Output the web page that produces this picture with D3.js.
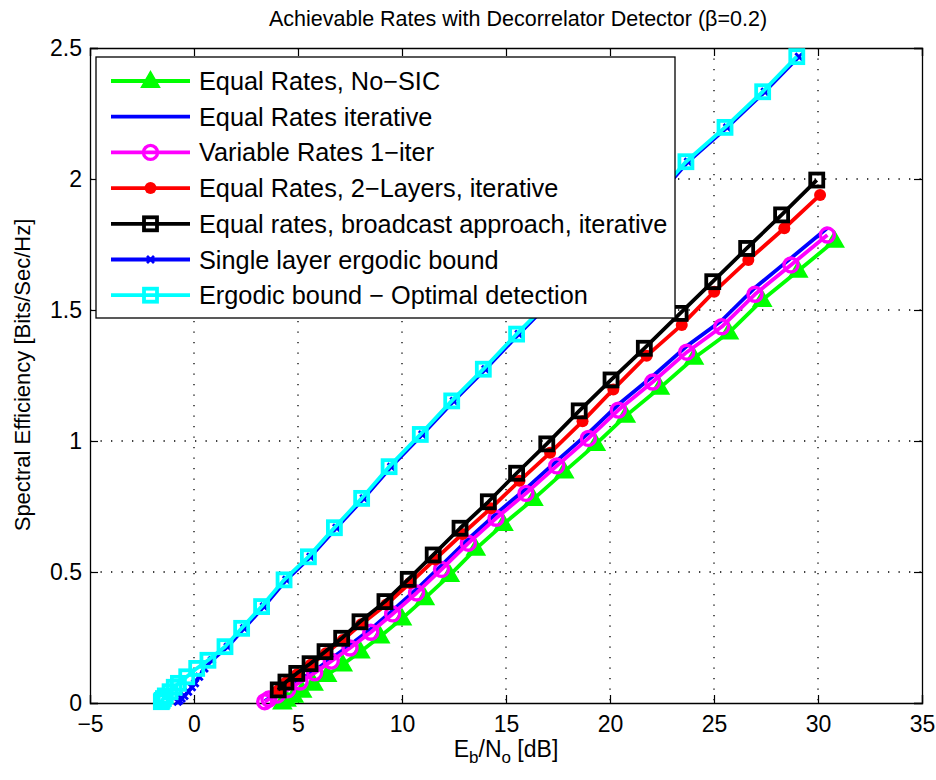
<!DOCTYPE html>
<html><head><meta charset="utf-8">
<script src="https://cdn.jsdelivr.net/npm/d3@7"></script>
<style>
body{margin:0;background:#fff;}
text{font-family:"Liberation Sans",Arial,Helvetica,sans-serif;}
</style></head>
<body><svg id="c" width="936" height="780"></svg>
<script>
// ---- data ----
const xTicks = [-5,0,5,10,15,20,25,30,35];
const yTicks = [0,0.5,1,1.5,2,2.5];

const cyanE = [-1.57,-1.53,-1.47,-1.38,-1.15,-0.95,-0.75,-0.35,0.13,0.67,1.49,2.29,3.25,4.33,5.5,6.75,8.06,9.38,10.88,12.39,13.91,15.51,17.16,18.85,20.53,22.16,23.65,25.53,27.34,28.98];
const cyanC = [0.005,0.01,0.017,0.027,0.043,0.06,0.075,0.1,0.132,0.163,0.215,0.285,0.368,0.47,0.558,0.669,0.781,0.902,1.025,1.153,1.274,1.408,1.54,1.67,1.80,1.93,2.066,2.197,2.333,2.467];

const singleE = [-0.78,-0.7,-0.6,-0.46,-0.28,-0.1,0.05,0.25,0.5,0.86,1.62,2.41,3.36,4.44,5.6,6.85,8.16,9.48,10.98,12.49,14.01,15.61,17.26,18.95,20.63,22.26,23.75,25.63,27.44,29.08];
const singleC = [0.005,0.01,0.017,0.027,0.043,0.06,0.075,0.1,0.132,0.163,0.215,0.285,0.368,0.47,0.558,0.669,0.781,0.902,1.025,1.153,1.274,1.408,1.54,1.67,1.80,1.93,2.066,2.197,2.333,2.467];

const blackE = [4.05,4.42,4.94,5.58,6.30,7.10,7.98,9.18,10.30,11.50,12.79,14.15,15.51,16.96,18.52,20.05,21.65,23.37,24.94,26.57,28.25,29.94];
const blackC = [0.050,0.080,0.113,0.150,0.196,0.247,0.310,0.387,0.472,0.565,0.667,0.768,0.877,0.989,1.115,1.233,1.354,1.487,1.608,1.735,1.863,1.996];

const redE = [4.05,4.43,4.96,5.61,6.34,7.15,8.04,9.25,10.38,11.59,12.9,14.27,15.65,17.12,18.68,20.16,21.76,23.45,25.01,26.65,28.38,30.1];
const redC = [0.049,0.078,0.110,0.146,0.190,0.240,0.301,0.376,0.458,0.548,0.645,0.743,0.848,0.955,1.075,1.197,1.325,1.443,1.570,1.691,1.812,1.939];

const magE = [3.4,3.6,4.0,4.5,5.1,5.8,6.6,7.5,8.5,9.55,10.7,11.9,13.19,14.52,15.96,17.44,18.96,20.4,22.05,23.69,25.37,26.97,28.70,30.45];
const magC = [0.005,0.015,0.03,0.05,0.08,0.115,0.16,0.21,0.27,0.34,0.42,0.51,0.610,0.705,0.80,0.905,1.010,1.118,1.225,1.339,1.436,1.560,1.672,1.786];

const eqItE = [3.4,3.6,4.0,4.5,5.1,5.8,6.6,7.5,8.5,9.55,10.7,11.9,13.19,14.52,15.96,17.44,18.96,20.4,22.05,23.69,25.37,26.97,28.70,30.45];
const eqItC = [0.007,0.018,0.035,0.057,0.088,0.124,0.17,0.221,0.282,0.353,0.434,0.525,0.626,0.722,0.818,0.924,1.03,1.139,1.247,1.362,1.46,1.585,1.698,1.813];

const greenE = [4.25,4.45,4.8,5.2,5.75,6.4,7.15,8.0,8.95,10.0,11.1,12.3,13.55,14.88,16.32,17.8,19.32,20.76,22.4,24.04,25.72,27.32,29.05,30.8];
const greenC = [0.002,0.012,0.027,0.046,0.073,0.107,0.147,0.196,0.254,0.322,0.4,0.488,0.588,0.683,0.778,0.883,0.988,1.096,1.203,1.317,1.414,1.538,1.65,1.764];

const legendLabels = ["Equal Rates, No\u2212SIC","Equal Rates iterative","Variable Rates 1\u2212iter","Equal Rates, 2\u2212Layers, iterative","Equal rates, broadcast approach, iterative","Single layer ergodic bound","Ergodic bound \u2212 Optimal detection"];

// ---- chart ----
const svg = d3.select("#c");
const L=90,R=922,T=48,B=703;
const x = d3.scaleLinear().domain([-5,35]).range([L,R]);
const y = d3.scaleLinear().domain([0,2.5]).range([B,T]);

svg.append("rect").attr("x",0).attr("y",0).attr("width",936).attr("height",780).attr("fill","#fff");

// grid
const g = svg.append("g");
xTicks.slice(1,-1).forEach(t=>g.append("line").attr("x1",x(t)).attr("x2",x(t)).attr("y1",T).attr("y2",B)
  .attr("stroke","#000").attr("stroke-width",1.3).attr("stroke-dasharray","1.3,9.2"));
yTicks.slice(1,-1).forEach(t=>g.append("line").attr("y1",y(t)).attr("y2",y(t)).attr("x1",L).attr("x2",R)
  .attr("stroke","#000").attr("stroke-width",1.3).attr("stroke-dasharray","1.3,9.2"));

// axes
const fmt = d=> (d<0? "\u2212"+Math.abs(d) : String(d));
const xAx = svg.append("g").attr("transform",`translate(0,${B})`).call(d3.axisBottom(x).tickValues(xTicks).tickSize(-8).tickPadding(13).tickFormat(fmt));
const xAxT = svg.append("g").attr("transform",`translate(0,${T})`).call(d3.axisTop(x).tickValues(xTicks).tickSize(-8).tickFormat(""));
const yAx = svg.append("g").attr("transform",`translate(${L},0)`).call(d3.axisLeft(y).tickValues(yTicks).tickSize(-8).tickPadding(8).tickFormat(d=>String(d)));
const yAxR = svg.append("g").attr("transform",`translate(${R},0)`).call(d3.axisRight(y).tickValues(yTicks).tickSize(-8).tickFormat(""));
[xAx,xAxT,yAx,yAxR].forEach(a=>{a.select(".domain").attr("stroke","#000").attr("stroke-width",1.3);
  a.selectAll(".tick line").attr("stroke","#000").attr("stroke-width",1.2);
  a.selectAll("text").attr("font-size",23).attr("fill","#000").attr("font-family","Liberation Sans, Arial, sans-serif");});

// series
const lineGen = d3.line().x(d=>x(d[0])).y(d=>y(d[1]));
const zip=(a,b)=>a.map((v,i)=>[v,b[i]]);
const series = [
  {E:greenE,C:greenC,color:"#00ff00",marker:"tri"},
  {E:eqItE,C:eqItC,color:"#0000ff",marker:"none"},
  {E:magE,C:magC,color:"#ff00ff",marker:"circle"},
  {E:redE,C:redC,color:"#ff0000",marker:"dot"},
  {E:blackE,C:blackC,color:"#000000",marker:"square"},
  {E:singleE,C:singleC,color:"#0000ff",marker:"x"},
  {E:cyanE,C:cyanC,color:"#00ffff",marker:"square"}
];
const plot = svg.append("g");
function drawMarker(sel,type,color,cx,cy){
  if(type==="tri"){
    const s=9.5;
    sel.append("path").attr("d",`M${cx},${cy-s}L${cx+s*0.95},${cy+s*0.65}L${cx-s*0.95},${cy+s*0.65}Z`)
      .attr("fill",color).attr("stroke",color).attr("stroke-width",1.5);
  } else if(type==="circle"){
    sel.append("circle").attr("cx",cx).attr("cy",cy).attr("r",7).attr("fill","none").attr("stroke",color).attr("stroke-width",3.4);
  } else if(type==="dot"){
    sel.append("circle").attr("cx",cx).attr("cy",cy).attr("r",6).attr("fill",color);
  } else if(type==="square"){
    sel.append("rect").attr("x",cx-6.5).attr("y",cy-6.5).attr("width",13).attr("height",13).attr("fill","none").attr("stroke",color).attr("stroke-width",3.8);
  } else if(type==="x"){
    const s=3.5;
    sel.append("path").attr("d",`M${cx-s},${cy-s}L${cx+s},${cy+s}M${cx-s},${cy+s}L${cx+s},${cy-s}`).attr("stroke",color).attr("stroke-width",2.8);
  }
}
series.forEach(s=>{
  const pts = zip(s.E,s.C);
  plot.append("path").datum(pts).attr("d",lineGen).attr("fill","none").attr("stroke",s.color).attr("stroke-width",3.8).attr("stroke-linejoin","round");
  if(s.marker!=="none"){
    const mg = plot.append("g");
    pts.forEach(p=>drawMarker(mg,s.marker,s.color,x(p[0]),y(p[1])));
  }
});

// legend
const lg = svg.append("g");
const lx=96, ly=57, lw=579, lh=261;
lg.append("rect").attr("x",lx).attr("y",ly).attr("width",lw).attr("height",lh).attr("fill","#fff").attr("stroke","#000").attr("stroke-width",1.3);
const legMarkers=["tri","none","circle","dot","square","x","square"];
const legColors=["#00ff00","#0000ff","#ff00ff","#ff0000","#000000","#0000ff","#00ffff"];
legendLabels.forEach((lab,i)=>{
  const yy = ly+24+i*35.7;
  lg.append("line").attr("x1",lx+15).attr("x2",lx+94).attr("y1",yy).attr("y2",yy).attr("stroke",legColors[i]).attr("stroke-width",3.8);
  drawMarker(lg,legMarkers[i],legColors[i],lx+54.5,yy);
  lg.append("text").attr("x",lx+103).attr("y",yy+9).attr("font-size",25.3).attr("fill","#000").text(lab);
});

// title & labels
svg.append("text").attr("x",518).attr("y",26).attr("text-anchor","middle").attr("font-size",21.5).attr("fill","#000")
  .text("Achievable Rates with Decorrelator Detector (\u03b2=0.2)");
svg.append("text").attr("transform","translate(30,375) rotate(-90)").attr("text-anchor","middle").attr("font-size",22).attr("fill","#000")
  .text("Spectral Efficiency [Bits/Sec/Hz]");
const xl = svg.append("text").attr("x",506).attr("y",757).attr("text-anchor","middle").attr("font-size",23).attr("fill","#000");
xl.append("tspan").text("E");
xl.append("tspan").attr("font-size",17).attr("dy",6).text("b");
xl.append("tspan").attr("dy",-6).text("/N");
xl.append("tspan").attr("font-size",17).attr("dy",6).text("o");
xl.append("tspan").attr("dy",-6).text(" [dB]");
</script></body></html>
